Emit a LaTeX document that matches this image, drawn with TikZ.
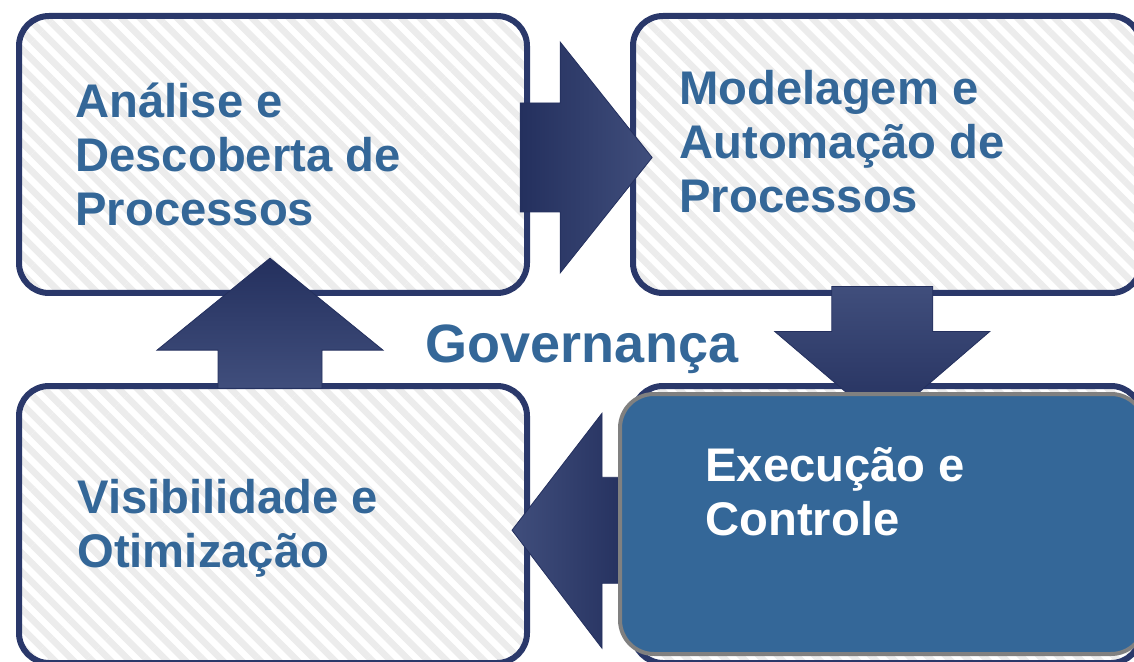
\documentclass[tikz,border=0pt]{standalone}
\usepackage{fontspec}
\setmainfont{Liberation Sans}
\usetikzlibrary{calc,patterns.meta}
\definecolor{navy}{RGB}{42,56,106}
\definecolor{navydark}{RGB}{36,48,94}
\definecolor{navylight}{RGB}{64,78,124}
\definecolor{procblue}{RGB}{52,103,152}
\definecolor{hatchgray}{RGB}{236,236,236}

\begin{document}
\begin{tikzpicture}[x=0.5pt, y=-0.5pt,
        procbox/.style={draw=navy, line width=3pt, rounded corners=15pt,
            minimum width=254pt, minimum height=138.5pt, preaction={fill=white},
            pattern={Lines[angle=-45, distance=6.6pt, line width=3.3pt]}, pattern color=hatchgray},
        activebox/.style={draw=black!50, line width=2pt, fill=procblue, rounded corners=17pt,
            minimum width=262.5pt, minimum height=130pt},
        blockarrow/.style={draw=navydark, line width=0.4pt},
        steptext/.style={anchor=base west, align=left, inner sep=0pt,
            font=\fontsize{23.6}{27}\selectfont\bfseries, text=procblue}]
    \useasboundingbox (0,0) rectangle (1134,662);

    % the four phases
    \node[procbox] (analise)   at (273, 154.5) {};
    \node[procbox] (modelagem) at (887, 154.5) {};
    \node[procbox] (visib)     at (273, 524.5) {};
    \node[procbox] (execback)  at (887, 524.5) {};
    \node[activebox, draw=none, fill=none] (execucao) at (882.5, 524) {};

    % block arrows between the phases
    \coordinate (ab) at ($(analise.east)!0.5!(modelagem.west)$);
    \coordinate (bd) at ($(modelagem.south)!0.5!(execucao.north)$);
    \coordinate (dc) at ($(execucao.west)!0.5!(visib.east)$);
    \coordinate (ca) at ($(visib.north)!0.5!(analise.south)$);
    \begin{scope}[shift={(ab)}]
        \draw[blockarrow, left color=navydark, right color=navylight]
            (-60,-51.5) -- (-20,-51.5) -- (-20,-112.5) -- (72,3) -- (-20,118.5) -- (-20,57.5) -- (-60,57.5) -- cycle;
    \end{scope}
    \begin{scope}[shift={(bd)}]
        \draw[blockarrow, top color=navylight, bottom color=navydark]
            (-53,-57.5) -- (48,-57.5) -- (48,-12.5) -- (105,-12.5) -- (-2,79.5) -- (-110,-12.5) -- (-53,-12.5) -- cycle;
    \end{scope}
    \begin{scope}[shift={(dc)}]
        \draw[blockarrow, left color=navylight, right color=navydark]
            (56,-47) -- (28,-47) -- (28,-111) -- (-62,6) -- (28,124) -- (28,59) -- (56,59) -- cycle;
    \end{scope}
    \begin{scope}[shift={(ca)}]
        \draw[blockarrow, top color=navydark, bottom color=navylight]
            (-55,48.5) -- (-55,10.5) -- (-116,10.5) -- (-3,-81.5) -- (110,10.5) -- (49,10.5) -- (49,48.5) -- cycle;
    \end{scope}

    % active phase on top
    \node[activebox] at (execucao) {};

    % labels (base = last line)
    \node[steptext] (tanalise)   at (75, 226)  {Análise e\\Descoberta de\\Processos};
    \node[steptext] (tmodelagem) at (679, 213) {Modelagem e\\Automação de\\Processos};
    \node[steptext] (tvisib)     at (77, 567)  {Visibilidade e\\Otimização};
    \node[steptext, text=white] (texecucao) at (705, 535) {Execução e\\Controle};
    \node[anchor=base, inner sep=0pt, font=\fontsize{27}{30}\selectfont\bfseries, text=procblue]
        (gov) at (582, 363) {Governança};
\end{tikzpicture}
\end{document}
